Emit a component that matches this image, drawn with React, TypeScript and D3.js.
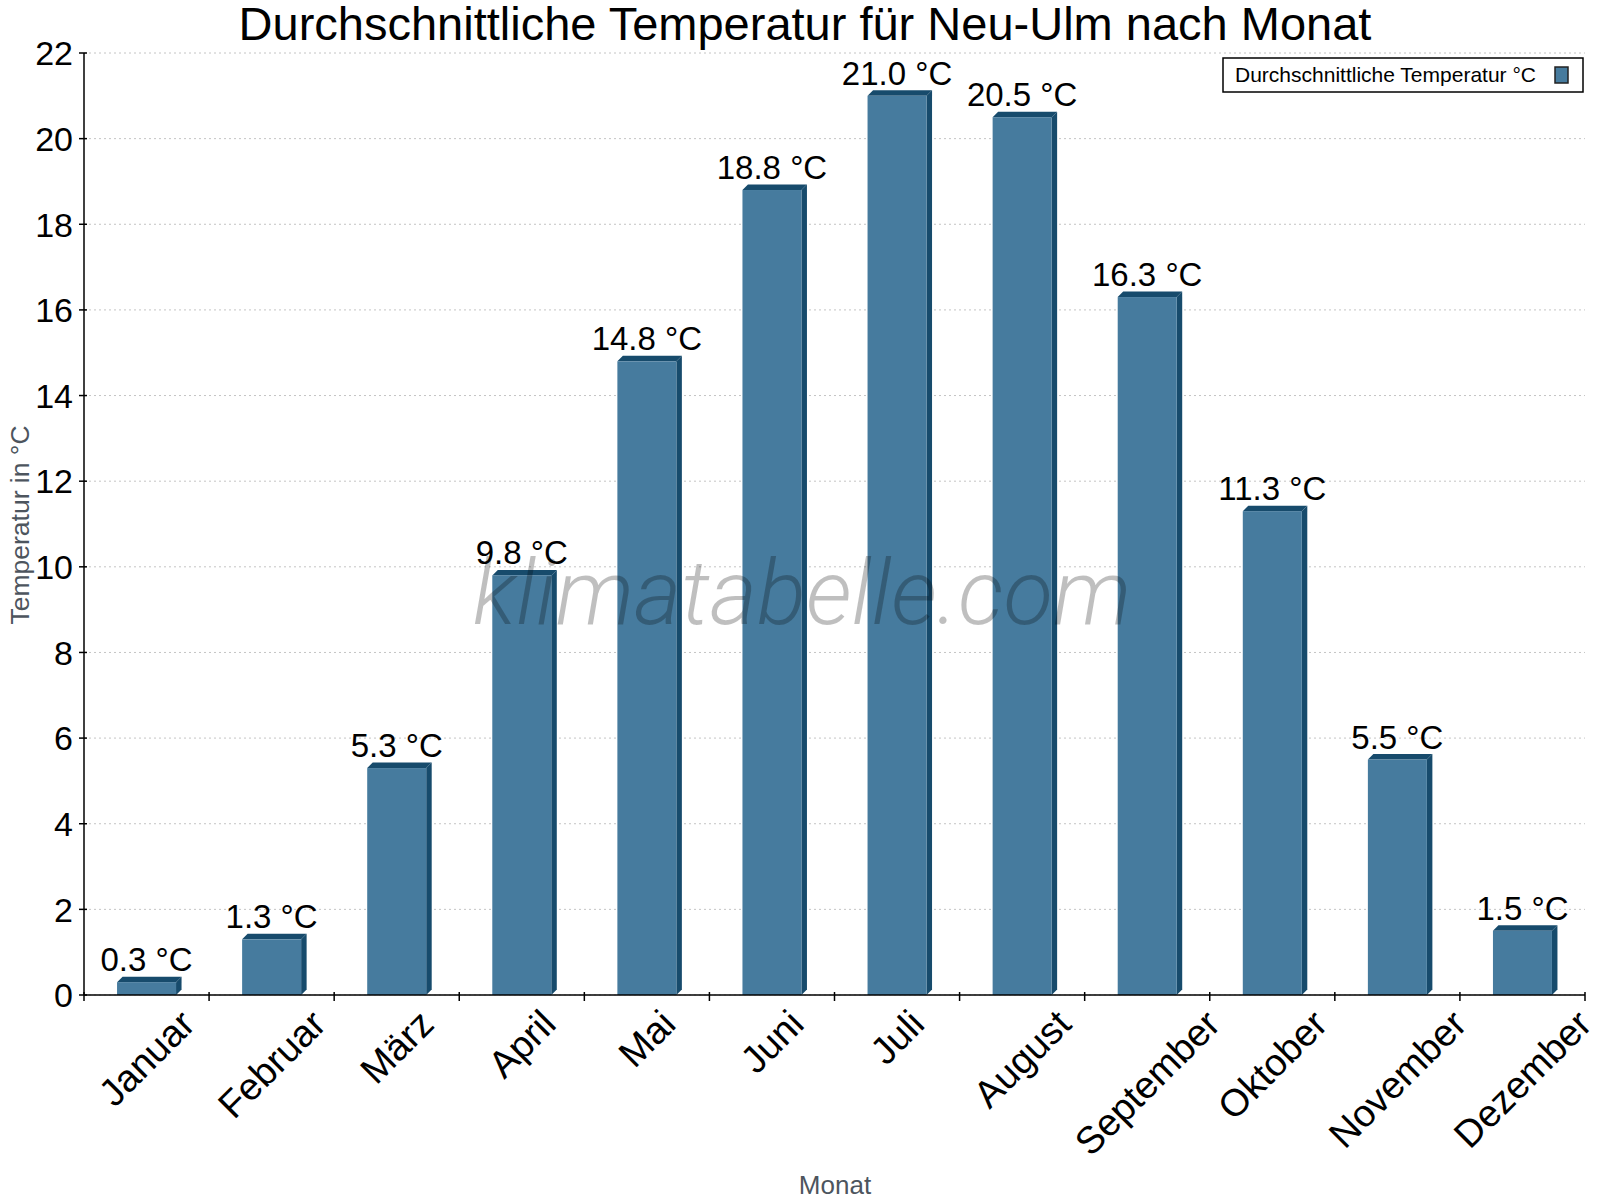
import React from "react";
import * as d3 from "d3";

const months = ["Januar", "Februar", "März", "April", "Mai", "Juni", "Juli", "August", "September", "Oktober", "November", "Dezember"];
const temps = [0.3, 1.3, 5.3, 9.8, 14.8, 18.8, 21.0, 20.5, 16.3, 11.3, 5.5, 1.5];
const yTicks = [0, 2, 4, 6, 8, 10, 12, 14, 16, 18, 20, 22];

const titleText = "Durchschnittliche Temperatur für Neu-Ulm nach Monat";
const legendText = "Durchschnittliche Temperatur °C";
const yTitle = "Temperatur in °C";
const xTitle = "Monat";
const watermark = "klimatabelle.com";

const FONT = "'Liberation Sans', Arial, sans-serif";
const W = 1600, H = 1200;
const left = 84, right = 1585, top = 53, bottom = 995;
const FRONT = "#467b9e";
const DARK = "#174b6c";

const canvas = typeof document !== "undefined" ? document.createElement("canvas") : null;
function measure(text: string, size: number): number {
  const ctx = canvas ? canvas.getContext("2d") : null;
  if (!ctx) return text.length * size * 0.55;
  ctx.font = `${size}px 'Liberation Sans', Arial, sans-serif`;
  return ctx.measureText(text).width;
}

export default function App() {
  const x = d3.scaleBand<string>().domain(months).range([left, right]).padding(0);
  const y = d3.scaleLinear().domain([0, 22]).range([bottom, top]);
  const bw = 59;
  const dp = 5.5;
  const monthSize = 38;
  const bounds = [...months.map((m) => x(m) as number), right];

  return (
    <svg width={W} height={H} style={{ position: "absolute", left: 0, top: 0, background: "#fff" }} fontFamily={FONT}>
      <rect x={0} y={0} width={W} height={H} fill="#fff" />
      {/* grid */}
      {yTicks.map((t) => (
        <line key={"g" + t} x1={left} x2={right} y1={y(t)} y2={y(t)} stroke="#c4c4c4" strokeWidth={1} strokeDasharray="2,3" />
      ))}
      {/* bars */}
      {months.map((m, i) => {
        const cx = (x(m) as number) + x.bandwidth() / 2;
        const x0 = cx - bw / 2;
        const x1 = cx + bw / 2;
        const yt = y(temps[i]);
        const y0 = y(0);
        return (
          <g key={"b" + m}>
            <polygon points={`${x0},${yt} ${x0 + dp},${yt - dp} ${x1 + dp},${yt - dp} ${x1},${yt}`} fill={DARK} />
            <polygon points={`${x1},${yt} ${x1 + dp},${yt - dp} ${x1 + dp},${y0 - dp} ${x1},${y0}`} fill={DARK} />
            <rect x={x0} y={yt} width={bw} height={y0 - yt} fill={FRONT} />
          </g>
        );
      })}
      {/* watermark */}
      <text x={802} y={624} textAnchor="middle" fontFamily="Roboto, 'Open Sans', sans-serif" fontStyle="italic" fontWeight={300} fontSize={91} fill="#000" fillOpacity={0.25}>
        {watermark}
      </text>
      {/* value labels */}
      {months.map((m, i) => {
        const cx = (x(m) as number) + x.bandwidth() / 2;
        return (
          <text key={"v" + m} x={cx} y={y(temps[i]) - 11} textAnchor="middle" fontSize={33} fill="#000">
            {temps[i].toFixed(1) + " °C"}
          </text>
        );
      })}
      {/* axes */}
      <line x1={left} x2={left} y1={top} y2={bottom} stroke="#000" strokeWidth={1.5} />
      <line x1={left} x2={right} y1={bottom} y2={bottom} stroke="#000" strokeWidth={1.5} />
      {yTicks.map((t) => (
        <g key={"yt" + t}>
          <line x1={79} x2={87} y1={y(t)} y2={y(t)} stroke="#000" strokeWidth={1.5} />
          <text x={73} y={y(t)} dy="0.36em" textAnchor="end" fontSize={34} fill="#000">{t}</text>
        </g>
      ))}
      {bounds.map((b, i) => (
        <line key={"xt" + i} x1={b} x2={b} y1={bottom - 3} y2={bottom + 6} stroke="#000" strokeWidth={1.5} />
      ))}
      {months.map((m) => {
        const cx = (x(m) as number) + x.bandwidth() / 2;
        const L = measure(m, monthSize);
        const A = 0.905 * monthSize;
        const D = 0.212 * monthSize;
        const ex = cx + ((L + A + D) * 0.7071) / 2 - 0.7071 * D;
        const ey = 1002 + 0.7071 * A;
        return (
          <text key={"m" + m} x={ex} y={ey} textAnchor="end" fontSize={monthSize} fill="#000" transform={`rotate(-45 ${ex} ${ey})`}>
            {m}
          </text>
        );
      })}
      {/* axis titles */}
      <text x={29} y={525} textAnchor="middle" fontSize={26.5} fill="#4d555e" transform="rotate(-90 29 525)">{yTitle}</text>
      <text x={835} y={1194} textAnchor="middle" fontSize={26} fill="#4d555e">{xTitle}</text>
      {/* title */}
      <text x={805} y={40} textAnchor="middle" fontSize={47} fill="#000">{titleText}</text>
      {/* legend */}
      <rect x={1223} y={58} width={360} height={34} fill="#fff" stroke="#000" strokeWidth={1.5} />
      <text x={1235} y={82} fontSize={21} fill="#000">{legendText}</text>
      <rect x={1555} y={67} width={13} height={16} fill={FRONT} stroke="#222" strokeWidth={1.5} />
    </svg>
  );
}
